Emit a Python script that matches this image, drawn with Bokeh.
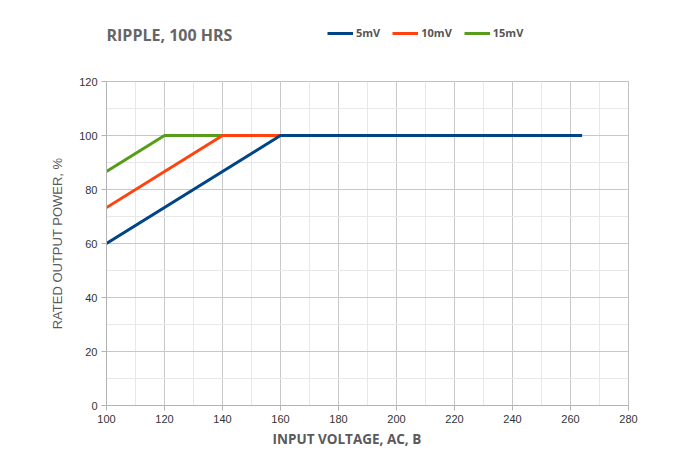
from bokeh.plotting import figure
from bokeh.models import Range1d, Legend, LegendItem, FixedTicker, Title, Label
from bokeh.layouts import column
from bokeh.embed import file_html
from bokeh.resources import INLINE

# ---- data ----
series_names = ["5mV", "10mV", "15mV"]
v_5mv = [100, 160, 264]
p_5mv = [60, 100, 100]
v_10mv = [100, 140, 160]
p_10mv = [73.3, 100, 100]
v_15mv = [100, 120, 140]
p_15mv = [86.7, 100, 100]
x_ticks = [100, 120, 140, 160, 180, 200, 220, 240, 260, 280]
y_ticks = [0, 20, 40, 60, 80, 100, 120]
x_minor = list(range(100, 281, 10))
y_minor = list(range(0, 121, 10))
title_text = "RIPPLE, 100 HRS"
x_label = "INPUT VOLTAGE, AC, B"
y_label = "RATED OUTPUT POWER, %"

colors = ["#004586", "#ff420e", "#579d1c"]

# ---- main chart ----
p = figure(title=None, frame_width=522, frame_height=324,
           min_border_left=106, min_border_right=50,
           min_border_top=10, min_border_bottom=10,
           x_range=Range1d(100, 280), y_range=Range1d(0, 120),
           output_backend="svg", toolbar_location=None)
p.outline_line_color = "#c0c0c0"
p.background_fill_color = "white"
p.border_fill_color = "white"

xt = FixedTicker(ticks=x_ticks, minor_ticks=x_minor)
yt = FixedTicker(ticks=y_ticks, minor_ticks=y_minor)
p.xaxis.ticker = xt
p.yaxis.ticker = yt
p.xgrid.ticker = xt
p.ygrid.ticker = yt
for g in (p.xgrid, p.ygrid):
    g.grid_line_color = "#c8c8c8"
    g.grid_line_width = 1
    g.minor_grid_line_color = "#e8e8e8"
    g.minor_grid_line_width = 1

for ax in (p.xaxis, p.yaxis):
    ax.axis_line_color = "#b3b3b3"
    ax.major_tick_line_color = "#b3b3b3"
    ax.major_tick_out = 5
    ax.major_tick_in = 0
    ax.minor_tick_line_color = None
    ax.major_label_text_font = "Liberation Sans"
    ax.major_label_text_font_size = "11px"
    ax.major_label_text_color = "#333333"
    ax.major_label_standoff = 4

p.yaxis.axis_label = y_label
p.yaxis.axis_label_text_font = "Liberation Sans"
p.yaxis.axis_label_text_font_style = "normal"
p.yaxis.axis_label_text_font_size = "13px"
p.yaxis.axis_label_text_color = "#5a5a5a"
p.yaxis.axis_label_standoff = 11

p.line(v_15mv, p_15mv, line_color=colors[2], line_width=3)
p.line(v_10mv, p_10mv, line_color=colors[1], line_width=3)
p.line(v_5mv, p_5mv, line_color=colors[0], line_width=3)

xlab = Title(text=x_label, align="left", offset=166, standoff=5,
             text_font="Open Sans", text_font_style="bold",
             text_font_size="13.5px", text_color="#5a5a5a")
p.add_layout(xlab, "below")

# ---- header with title and legend ----
h = figure(width=678, height=71, min_border=0, title=None,
           x_range=Range1d(0, 1), y_range=Range1d(0, 1),
           x_axis_location=None, y_axis_location=None,
           output_backend="svg", toolbar_location=None)
h.grid.visible = False
h.outline_line_color = None
h.border_fill_color = "white"
# legend samples (data lies outside this header's ranges, so only the legend shows)
h5 = h.line(v_5mv, p_5mv, line_color=colors[0], line_width=3)
h10 = h.line(v_10mv, p_10mv, line_color=colors[1], line_width=3)
h15 = h.line(v_15mv, p_15mv, line_color=colors[2], line_width=3)

legend = Legend(items=[LegendItem(label=series_names[0], renderers=[h5]),
                       LegendItem(label=series_names[1], renderers=[h10]),
                       LegendItem(label=series_names[2], renderers=[h15])],
                orientation="horizontal", location=(221, 31),
                padding=0, margin=0, spacing=12,
                glyph_width=26, glyph_height=14, label_height=14,
                label_standoff=3,
                label_text_font="Open Sans", label_text_font_style="bold",
                label_text_font_size="11px", label_text_color="#555555",
                border_line_color=None, background_fill_alpha=0)
h.add_layout(legend, "center")

title = Label(x=0, y=37, x_units="screen", y_units="screen",
              text=title_text, text_baseline="middle", text_align="left",
              text_font="Open Sans", text_font_style="bold",
              text_font_size="16px", text_color="#666666")
h.add_layout(title)

layout = column(h, p, spacing=0)
open("out.html", "w").write(file_html(layout, INLINE))
